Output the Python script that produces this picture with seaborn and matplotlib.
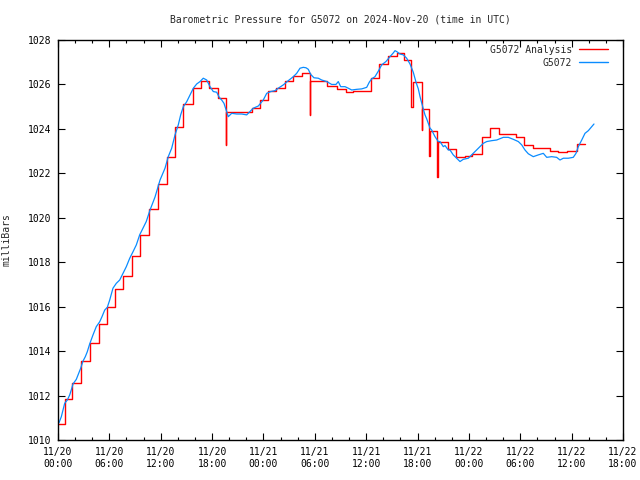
import numpy as np
import pandas as pd
import matplotlib
matplotlib.use("Agg")
import matplotlib.pyplot as plt
import seaborn as sns
from matplotlib.ticker import MultipleLocator

# ---- data (hours since 2024-11-20 00:00 UTC, pressure in mb) ----
analysis_hours = [0.00, 0.78, 1.67, 2.72, 3.70, 4.75, 5.76, 6.69, 7.63, 8.64,
                  9.61, 10.67, 11.68, 12.70, 13.67, 14.64, 15.73, 16.67, 17.64, 18.66,
                  19.59, 19.63, 21.58, 22.63, 23.60, 24.57, 25.47, 26.52, 27.49, 28.47,
                  29.44, 29.47, 31.46, 32.56, 33.64, 34.50, 36.53, 37.50, 38.58, 39.63,
                  40.45, 41.24, 41.50, 42.47, 42.50, 43.36, 43.40, 44.32, 44.35, 45.50,
                  46.46, 47.54, 48.33, 49.49, 50.46, 51.52, 53.50, 54.43, 55.45, 57.47,
                  58.44, 59.49, 60.59, 61.56]
analysis_mb = [1010.72, 1011.83, 1012.55, 1013.55, 1014.35, 1015.22, 1015.97, 1016.78, 1017.38, 1018.28,
               1019.23, 1020.40, 1021.50, 1022.72, 1024.07, 1025.12, 1025.83, 1026.17, 1025.83, 1025.38,
               1023.27, 1024.78, 1024.74, 1024.93, 1025.30, 1025.71, 1025.83, 1026.16, 1026.40, 1026.50,
               1024.63, 1026.15, 1025.95, 1025.80, 1025.65, 1025.70, 1026.30, 1026.90, 1027.27, 1027.40,
               1027.08, 1024.97, 1026.09, 1023.97, 1024.88, 1022.80, 1023.90, 1021.82, 1023.42, 1023.08,
               1022.75, 1022.80, 1022.85, 1023.63, 1024.03, 1023.77, 1023.63, 1023.27, 1023.13, 1023.00,
               1022.94, 1023.00, 1023.32, 1023.32]

obs_hours = [0.12, 0.39, 0.58, 0.78, 1.09, 1.37, 1.55, 1.75, 2.14, 2.42,
             2.65, 2.92, 3.19, 3.42, 3.70, 4.09, 4.47, 4.87, 5.14, 5.46,
             5.76, 6.04, 6.42, 6.81, 7.21, 7.59, 7.98, 8.38, 8.76, 9.15,
             9.54, 9.93, 10.31, 10.75, 11.33, 11.92, 12.50, 12.88, 13.28, 13.67,
             14.05, 14.33, 14.64, 15.03, 15.42, 15.81, 16.20, 16.59, 16.97, 17.37,
             17.76, 18.14, 18.54, 18.84, 19.12, 19.39, 19.62, 19.89, 20.29, 20.87,
             21.46, 22.04, 22.43, 22.81, 23.40, 23.98, 24.38, 24.85, 25.35, 25.73,
             26.32, 26.90, 27.49, 27.88, 28.27, 28.65, 28.97, 29.24, 29.52, 29.90,
             30.41, 30.80, 31.39, 31.97, 32.47, 32.74, 33.02, 33.53, 33.91, 34.31,
             34.89, 35.48, 36.06, 36.36, 36.64, 37.03, 37.42, 37.81, 38.31, 38.78,
             39.17, 39.37, 39.56, 39.95, 40.34, 40.73, 41.12, 41.50, 41.82, 42.09,
             42.29, 42.49, 42.67, 42.87, 43.07, 43.26, 43.46, 43.65, 43.84, 44.04,
             44.42, 44.62, 45.01, 45.21, 45.59, 45.79, 46.17, 46.57, 46.96, 47.34,
             47.93, 48.51, 48.91, 49.30, 49.68, 50.08, 50.66, 51.25, 52.02, 52.60,
             53.19, 53.77, 54.17, 54.55, 54.94, 55.52, 56.11, 56.69, 57.09, 57.67,
             58.25, 58.64, 59.03, 59.61, 60.19, 60.51, 60.78, 61.18, 61.56, 61.95,
             62.34, 62.61]
obs_mb = [1010.78, 1011.05, 1011.35, 1011.65, 1011.80, 1012.03, 1012.25, 1012.52, 1012.73, 1013.00,
          1013.23, 1013.55, 1013.75, 1013.97, 1014.32, 1014.73, 1015.10, 1015.32, 1015.55, 1015.85,
          1015.97, 1016.30, 1016.83, 1017.05, 1017.20, 1017.50, 1017.80, 1018.18, 1018.47, 1018.78,
          1019.23, 1019.53, 1019.83, 1020.35, 1020.93, 1021.70, 1022.23, 1022.75, 1023.13, 1023.73,
          1024.18, 1024.63, 1025.00, 1025.22, 1025.53, 1025.83, 1026.02, 1026.13, 1026.28, 1026.20,
          1025.90, 1025.68, 1025.65, 1025.42, 1025.30, 1025.15, 1024.88, 1024.55, 1024.70, 1024.67,
          1024.67, 1024.63, 1024.78, 1024.93, 1025.03, 1025.30, 1025.60, 1025.68, 1025.72, 1025.83,
          1025.98, 1026.17, 1026.35, 1026.50, 1026.73, 1026.77, 1026.75, 1026.68, 1026.45, 1026.30,
          1026.28, 1026.20, 1026.13, 1026.00, 1026.00, 1026.13, 1025.90, 1025.90, 1025.83, 1025.75,
          1025.78, 1025.80, 1025.87, 1026.10, 1026.25, 1026.35, 1026.60, 1026.88, 1027.03, 1027.25,
          1027.42, 1027.52, 1027.48, 1027.37, 1027.33, 1027.18, 1026.92, 1026.55, 1026.10, 1025.80,
          1025.45, 1025.15, 1024.90, 1024.63, 1024.45, 1024.25, 1024.03, 1023.95, 1023.80, 1023.65,
          1023.43, 1023.43, 1023.20, 1023.25, 1023.05, 1023.05, 1022.83, 1022.68, 1022.53, 1022.63,
          1022.68, 1022.90, 1023.05, 1023.20, 1023.35, 1023.43, 1023.47, 1023.50, 1023.62, 1023.62,
          1023.53, 1023.43, 1023.28, 1023.05, 1022.88, 1022.75, 1022.83, 1022.90, 1022.72, 1022.75,
          1022.72, 1022.60, 1022.68, 1022.68, 1022.72, 1022.90, 1023.20, 1023.50, 1023.80, 1023.92,
          1024.10, 1024.22]

xtick_hours = [0, 6, 12, 18, 24, 30, 36, 42, 48, 54, 60, 66]
xtick_labels = ["11/20\n00:00", "11/20\n06:00", "11/20\n12:00", "11/20\n18:00",
                "11/21\n00:00", "11/21\n06:00", "11/21\n12:00", "11/21\n18:00",
                "11/22\n00:00", "11/22\n06:00", "11/22\n12:00", "11/22\n18:00"]
ytick_values = [1010, 1012, 1014, 1016, 1018, 1020, 1022, 1024, 1026, 1028]

title_text = "Barometric Pressure for G5072 on 2024-Nov-20 (time in UTC)"
ylabel_text = "milliBars"
series_names = ["G5072 Analysis", "G5072"]

# ---- style ----
sns.set_theme(style="ticks")
plt.rcParams["font.family"] = ["DejaVu Sans Mono"]
FS = 7

fig = plt.figure(figsize=(6.4, 4.8), dpi=100)
ax = fig.add_axes([58 / 640, 40 / 480, 565 / 640, 400 / 480])

df_a = pd.DataFrame({"hours": analysis_hours, "mb": analysis_mb})
df_o = pd.DataFrame({"hours": obs_hours, "mb": obs_mb})

sns.lineplot(data=df_a, x="hours", y="mb", color="#ff0000", drawstyle="steps-post",
             estimator=None, sort=False, linewidth=1.0, label=series_names[0], ax=ax)
sns.lineplot(data=df_o, x="hours", y="mb", color="#0a8cff",
             estimator=None, sort=False, linewidth=0.9, label=series_names[1], ax=ax)

ax.set_xlim(0, 66)
ax.set_ylim(1010, 1028)
ax.set_xticks(xtick_hours)
ax.set_xticklabels(xtick_labels)
ax.xaxis.set_minor_locator(MultipleLocator(2))
ax.set_yticks(ytick_values)
ax.set_yticklabels([str(v) for v in ytick_values])

ax.tick_params(which="both", direction="in", top=True, right=True,
               labelsize=FS, colors="black", width=0.8)
ax.tick_params(which="major", length=5, pad=5)
ax.tick_params(which="minor", length=2.5)
for s in ax.spines.values():
    s.set_color("black")
    s.set_linewidth(1.0)
    s.set_visible(True)

ax.set_xlabel("")
ax.set_ylabel(ylabel_text, fontsize=FS)
ax.yaxis.set_label_coords(-0.083, 0.5)
fig.text(340.5 / 640, 1 - 19 / 480, title_text, ha="center", va="center", fontsize=FS)

leg = ax.legend(loc="upper right", bbox_to_anchor=(1 - 8 / 565, 1 + 2 / 400),
                frameon=False, fontsize=FS, markerfirst=False,
                handlelength=3.0, handletextpad=0.7, labelspacing=0.3,
                borderaxespad=0.3)
for line in leg.get_lines():
    line.set_linewidth(1.0)

fig.savefig("out.png", dpi=100)
